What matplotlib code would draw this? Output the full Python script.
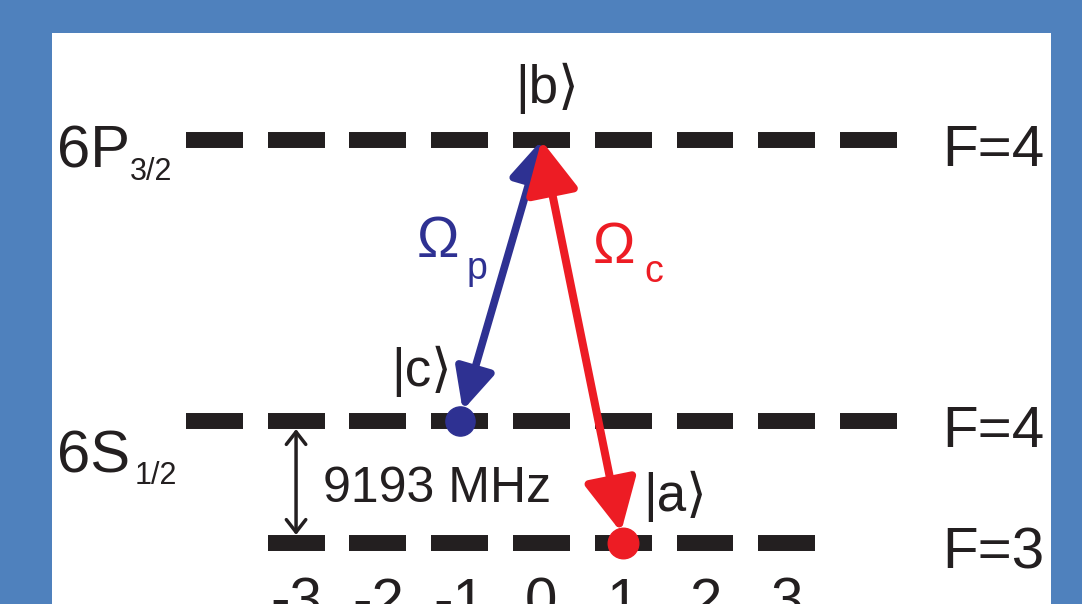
import matplotlib.pyplot as plt
from matplotlib.patches import Rectangle, FancyArrowPatch

# level data (energy in arbitrary units, F=3 ground level at 0)
level_names = ["6P", "6S", "6S"]
level_sub = ["3/2", "1/2", "1/2"]
level_F = [4, 4, 3]
level_E = [3.3, 1.0, 0.0]

m_ticks = [-3, -2, -1, 0, 1, 2, 3]
splitting = "9193 MHz"

# states (m, level index)
state_b = (0, 0)
state_c = (-1, 1)
state_a = (1, 2)

blue = "#2E3192"
red = "#ED1C24"
black = "#231F20"
bg = "#4F81BD"

plt.rcParams['font.family'] = ['Liberation Sans', 'DejaVu Sans']

fig = plt.figure(figsize=(10.82, 6.04), dpi=100, facecolor=bg)
ax = fig.add_axes([0, 0, 1, 1])
ax.set_xlim(-6.62, 6.61)
ax.set_ylim(-0.5, 4.451)
ax.axis("off")
ax.add_patch(Rectangle((52 / 1082, 0), 999 / 1082, 571 / 604,
                       transform=fig.transFigure, facecolor="white",
                       edgecolor="none", zorder=0, clip_on=False))

# sublevels
for E, F in zip(level_E, level_F):
    for m in range(-F, F + 1):
        ax.plot([m - 0.348, m + 0.348], [E, E], color=black, lw=11.5,
                solid_capstyle="butt", zorder=2)
    ax.text(4.896, E - 0.213, "F=%d" % F, fontsize=42, color=black,
            ha="left", va="baseline")

# term labels
ax.text(-5.923, 3.082, level_names[0], fontsize=43, color=black, va="baseline")
ax.text(-5.03, 2.975, level_sub[0], fontsize=22, color=black, va="baseline")
ax.text(-5.923, 0.582, level_names[1], fontsize=43, color=black, va="baseline")
ax.text(-4.98, 0.484, level_sub[1], fontsize=22, color=black, va="baseline")

# m labels (cut by the lower edge, as in the original)
for m in m_ticks:
    ax.text(m, -0.62, str(m), fontsize=42, color=black, ha="center",
            va="baseline")

# hyperfine splitting arrow
ax.add_patch(FancyArrowPatch((-3, level_E[1] - 0.066), (-3, level_E[2] + 0.066),
                             arrowstyle="<->,head_length=9,head_width=7",
                             mutation_scale=1, lw=2.5, color=black,
                             shrinkA=0, shrinkB=0, zorder=3))
ax.text(-2.671, 0.336, splitting, fontsize=36, color=black, va="baseline")


def pos(state):
    return (state[0], level_E[state[1]])


# probe (blue) and coupling (red) transitions
ax.add_patch(FancyArrowPatch(pos(state_b), pos(state_c),
                             arrowstyle="<|-|>,head_length=25,head_width=12",
                             mutation_scale=1, lw=5.5, color=blue,
                             shrinkA=0, shrinkB=8, zorder=4))
ax.add_patch(FancyArrowPatch(pos(state_b), pos(state_a),
                             arrowstyle="<|-|>,head_length=32,head_width=16",
                             mutation_scale=1, lw=5.8, color=red,
                             shrinkA=0, shrinkB=8, zorder=5))
ax.plot(*pos(state_c), "o", ms=21, color=blue, zorder=6)
ax.plot(*pos(state_a), "o", ms=22, color=red, zorder=6)

# state labels
ax.text(0.067, 3.61, "|b\u27e9", fontsize=38, color=black, ha="center", va="baseline")
ax.text(-1.467, 1.287, "|c\u27e9", fontsize=38, color=black, ha="center", va="baseline")
ax.text(1.632, 0.262, "|a\u27e9", fontsize=38, color=black, ha="center", va="baseline")

ax.text(-1.52, 2.344, "\u03a9", fontsize=41, color=blue, va="baseline")
ax.text(-0.91, 2.16, "p", fontsize=27, color=blue, va="baseline")
ax.text(0.63, 2.295, "\u03a9", fontsize=41, color=red, va="baseline")
ax.text(1.265, 2.139, "c", fontsize=27, color=red, va="baseline")

fig.savefig("out.png", dpi=100, facecolor=bg)
